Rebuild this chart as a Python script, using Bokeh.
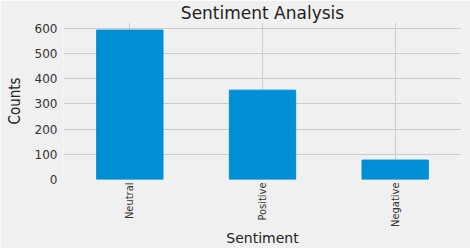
from bokeh.plotting import figure
from bokeh.models import ColumnDataSource, FixedTicker, Range1d
from bokeh.embed import file_html
from bokeh.resources import INLINE
import math

categories = ["Neutral", "Positive", "Negative"]
counts = [592, 354, 77]
y_ticks = [0, 100, 200, 300, 400, 500, 600]

src = ColumnDataSource(dict(cat=categories, val=counts))

p = figure(x_range=categories, y_range=Range1d(0, 622), width=470, height=248,
           output_backend="svg", toolbar_location=None,
           min_border_left=63, min_border_right=9, min_border_top=0, min_border_bottom=0)
p.x_range.range_padding = 0
p.vbar(x="cat", top="val", width=0.5, source=src, color="#008fd5", line_color="#008fd5")

bg = "#f0f0f0"
p.background_fill_color = bg
p.border_fill_color = bg
p.outline_line_color = None

p.title.text = "Sentiment Analysis"
p.title.align = "center"
p.title.text_font = "DejaVu Sans"
p.title.text_font_size = "17px"
p.title.text_font_style = "normal"
p.title.text_color = "#222222"
p.title.offset = 0
p.title.standoff = 0

for g in (p.xgrid, p.ygrid):
    g.grid_line_color = "#cbcbcb"
    g.grid_line_width = 1

narrow = "DejaVu Sans Condensed, Liberation Sans"

p.yaxis.ticker = FixedTicker(ticks=y_ticks)
for ax in (p.xaxis, p.yaxis):
    ax.axis_line_color = None
    ax.major_tick_line_color = None
    ax.minor_tick_line_color = None
    ax.major_label_text_color = "#333333"
    ax.major_tick_out = 0
    ax.major_tick_in = 0

p.yaxis.major_label_text_font = "DejaVu Sans"
p.yaxis.major_label_text_font_size = "12px"
p.yaxis.major_label_standoff = 6
p.yaxis.axis_label = "Counts"
p.yaxis.axis_label_text_font = narrow
p.yaxis.axis_label_text_font_size = "15px"
p.yaxis.axis_label_text_font_style = "normal"
p.yaxis.axis_label_text_color = "#222222"
p.yaxis.axis_label_standoff = 8

p.xaxis.major_label_orientation = math.pi / 2
p.xaxis.major_label_text_font = narrow
p.xaxis.major_label_text_font_size = "11px"
p.xaxis.major_label_standoff = 3
p.xaxis.axis_label = "Sentiment"
p.xaxis.axis_label_text_font = "DejaVu Sans"
p.xaxis.axis_label_text_font_size = "14px"
p.xaxis.axis_label_text_font_style = "normal"
p.xaxis.axis_label_text_color = "#222222"
p.xaxis.axis_label_standoff = 0

open("out.html", "w").write(file_html(p, INLINE))
